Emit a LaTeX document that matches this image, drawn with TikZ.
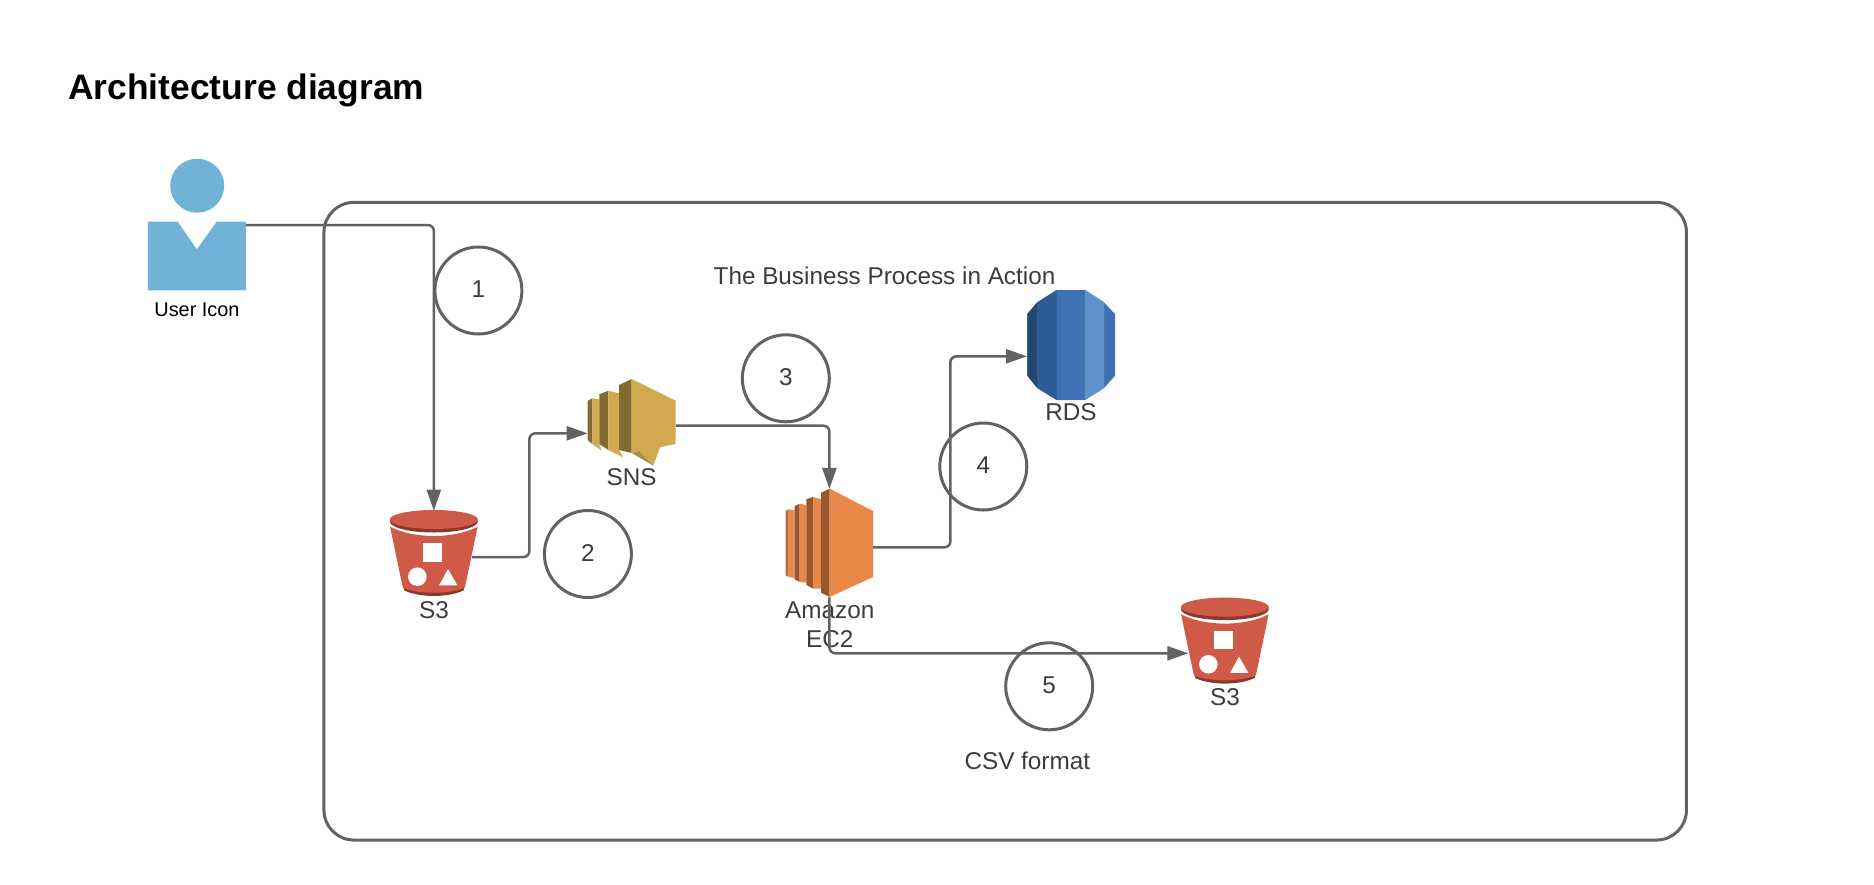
\documentclass[tikz,border=0pt]{standalone}
\usepackage{fontspec}
\setmainfont{Liberation Sans}
\usetikzlibrary{arrows.meta}
\definecolor{line1}{RGB}{98, 98, 98}
\definecolor{text1}{RGB}{60, 60, 60}
\definecolor{blue1}{RGB}{112, 179, 215}
\definecolor{red1}{RGB}{207, 90, 71}
\definecolor{red2}{RGB}{140, 56, 44}
\definecolor{gold1}{RGB}{209, 169, 79}
\definecolor{gold2}{RGB}{130, 106, 50}
\definecolor{orange1}{RGB}{232, 137, 74}
\definecolor{orange2}{RGB}{153, 85, 43}
\definecolor{rds1}{RGB}{35, 71, 109}
\definecolor{rds2}{RGB}{46, 91, 148}
\definecolor{rds3}{RGB}{63, 114, 180}
\definecolor{rds4}{RGB}{95, 146, 201}
\tikzset{
  iconbox/.style={inner sep=0, outer sep=0, minimum width=#1},
  conn/.style={draw=line1, line width=2.5pt, rounded corners=6pt, -{Triangle[length=21pt,width=14pt]}},
  stepcircle/.style={circle, draw=line1, line width=3pt, minimum size=87pt, inner sep=0, text=text1, font=\fontsize{24.3}{29.3}\selectfont},
  labeltext/.style={inner sep=0, text=text1, align=center, font=\fontsize{24.3}{29.3}\selectfont},
  s3icon/.pic={
    \fill[red2] (-30,34) -- (30,34) -- (30,36.5) .. controls (15,44.2) and (-15,44.2) .. (-30,36.5) -- cycle;
    \fill[red1] (-43.8,-27) .. controls (-20,-14.6) and (20,-14.6) .. (43.8,-27) -- (31,34) .. controls (15,40.7) and (-15,40.7) .. (-31,34) -- cycle;
    \fill[red2] (0,-32.2) ellipse [x radius=44, y radius=11];
    \fill[red1] (0,-34.2) ellipse [x radius=44, y radius=9.5];
    \fill[white] (-10.5,-10.4) rectangle (8.5,8);
    \fill[white] (-16.5,23) circle (9.3);
    \fill[white] (14.2,15.3) -- (23.5,31.6) -- (5.2,31.6) -- cycle;
  }
}
\begin{document}
\begin{tikzpicture}[x=1pt, y=-1pt]
  \useasboundingbox (0,0) rectangle (1874,884);
  \node[anchor=west, inner sep=0, font=\bfseries\fontsize{35.4}{40}\selectfont] (title) at (68,90) {Architecture diagram};
  \node[draw=line1, line width=3pt, rounded corners=30pt, minimum width=1362.5pt, minimum height=637.7pt, inner sep=0] (frame) at (1005.2,521.2) {};
  \node[labeltext] (frametext) at (884.5,276) {The Business Process in Action};

  % user icon
  \fill[blue1] (197.2,185.7) circle (27);
  \node[iconbox=98pt, minimum height=68.6pt] (user) at (196.8,256) {};
  \fill[blue1] (user.north west) -- (177.7,221.7) -- (196.8,249.3) -- (216.7,221.7) -- (user.north east) -- (user.south east) -- (user.south west) -- cycle;
  \node[inner sep=0, font=\fontsize{19.9}{24}\selectfont] (userlabel) at (197,309.5) {User Icon};

  % s3 buckets
  \node[iconbox=88.3pt, minimum height=86pt] (bucketa) at (433.85,553.7) {};
  \pic at (bucketa) {s3icon};
  \node[labeltext] (bucketalabel) at (434,610) {S3};
  \node[iconbox=88.3pt, minimum height=86pt] (bucketb) at (1224.85,641.3) {};
  \pic at (bucketb) {s3icon};
  \node[labeltext] (bucketblabel) at (1225,697.2) {S3};

  % sns
  \node[iconbox=88.4pt, minimum height=86.7pt] (sns) at (631.8,422.3) {};
  \fill[gold2] (587.7,400.7) -- (592.3,398.3) -- (592.3,444) -- (587.7,440) -- cycle;
  \fill[gold1] (592.3,398.3) -- (599.3,399.3) -- (599.3,445) -- (601.7,450.7) -- (592.3,444) -- cycle;
  \fill[gold2] (599.3,394.3) -- (608.3,390.7) -- (608.3,450) -- (599.3,444) -- cycle;
  \fill[gold1] (608.3,390.7) -- (619,393.3) -- (619,450) -- (623.3,457.3) -- (608.3,450) -- cycle;
  \fill[gold2] (619,385) -- (631.7,379) -- (631.7,453) -- (619,450) -- cycle;
  \fill[gold1] (631.7,379) -- (675.7,400.7) -- (675.7,444) -- (660,447.3) -- (653.3,465.7) -- (639.3,451) -- (631.7,453) -- cycle;
  \fill[gold2!45!gold1] (631.7,453) -- (639.3,451) -- (653.3,465.7) -- cycle;
  \node[labeltext] (snslabel) at (631.6,477.3) {SNS};

  % ec2
  \node[iconbox=87.2pt, minimum height=108.3pt] (ectwo) at (829.4,543.1) {};
  \fill[orange2!60!orange1] (785.7,511) -- (788.7,509.3) -- (788.7,577) -- (785.7,575.3) -- cycle;
  \fill[orange1] (788.7,509.3) -- (794.7,510.3) -- (794.7,578) -- (788.7,577) -- cycle;
  \fill[orange2] (794.7,506) -- (799.7,503.7) -- (799.7,582) -- (794.7,579.3) -- cycle;
  \fill[orange1] (799.7,503.7) -- (806.3,505.3) -- (806.3,582.7) -- (799.7,582) -- cycle;
  \fill[orange2] (806.3,499.3) -- (813,497) -- (813,588.7) -- (806.3,584.7) -- cycle;
  \fill[orange1] (813,497) -- (821,499.3) -- (821,588.7) -- (813,588.7) -- cycle;
  \fill[orange2] (821,492.7) -- (829.7,488.7) -- (829.7,597) -- (821,592.7) -- cycle;
  \fill[orange1] (829.7,488.7) -- (873,511) -- (873,577) -- (829.7,597) -- cycle;
  \node[labeltext] (ectwolabel) at (829.8,624.7) {Amazon\\EC2};

  % rds
  \node[iconbox=88pt, minimum height=110pt] (rds) at (1071,345) {};
  \fill[rds3] (1027.3,314) -- (1037.3,302.3) -- (1056.7,290) -- (1085,290) -- (1104,302.3) -- (1115,314) -- (1115,375.7) -- (1104,388) -- (1085,400) -- (1056.7,400) -- (1037.3,388) -- (1027.3,375.7) -- cycle;
  \fill[rds1] (1027.3,314) -- (1037.3,302.3) -- (1037.3,388) -- (1027.3,375.7) -- cycle;
  \fill[rds2] (1037.3,302.3) -- (1056.7,290) -- (1056.7,400) -- (1037.3,388) -- cycle;
  \fill[rds4] (1085,290) -- (1104,302.3) -- (1104,388) -- (1085,400) -- cycle;
  \node[labeltext] (rdslabel) at (1071,411.7) {RDS};

  % turning points
  \coordinate (turna) at (529.4,433.3);
  \coordinate (turnb) at (950.4,356.3);
  \draw[conn] ([yshift=31pt]user.east) -| (bucketa.north);
  \draw[conn] ([xshift=-6pt,yshift=-3.3pt]bucketa.east) -| (turna) -- ([yshift=-11pt]sns.west);
  \draw[conn] ([yshift=-3.4pt]sns.east) -| (ectwo.north);
  \draw[conn] ([yshift=-4.2pt]ectwo.east) -| (turnb) -- ([yshift=-11.3pt]rds.west);
  \draw[conn] (ectwo.south) |- ([xshift=7.6pt,yshift=-12pt]bucketb.west);

  \foreach \idx/\x/\y in {1/478.4/290.5, 2/587.9/554, 3/785.8/378.3, 4/983.3/466.5, 5/1049.2/686.3}
    \node[stepcircle] (step\idx) at (\x,\y) {\raisebox{2.5pt}{\idx}};
  \node[labeltext] (csvlabel) at (1027.3,761) {CSV format};
\end{tikzpicture}
\end{document}
